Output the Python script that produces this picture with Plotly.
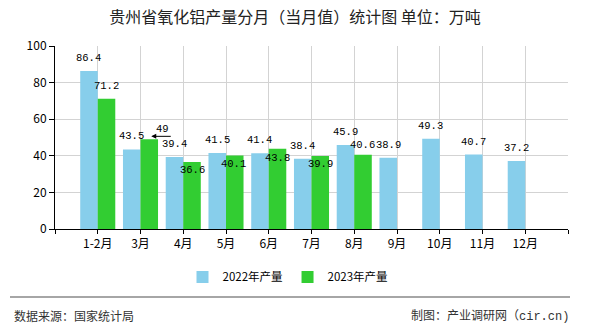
import plotly.graph_objects as go

categories = ["1-2月", "3月", "4月", "5月", "6月", "7月", "8月", "9月", "10月", "11月", "12月"]
values_2022 = [86.4, 43.5, 39.4, 41.5, 41.4, 38.4, 45.9, 38.9, 49.3, 40.7, 37.2]
values_2023 = [71.2, 49, 36.6, 40.1, 43.8, 39.9, 40.6]
series_names = ["2022年产量", "2023年产量"]
y_ticks = [0, 20, 40, 60, 80, 100]

title_text = "贵州省氧化铝产量分月（当月值）统计图 单位：万吨"
source_text = "数据来源：国家统计局"
maker_text = "制图：产业调研网（<span style='font-family:Liberation Mono'>cir.cn)</span>"

# label placement offsets (px) for the 2023 series labels: (dx, dy)
label_2023_shift = [(0, 13), (13, 10), (0, -8), (-1, -8), (0, -9), (0, -8), (-1, 10)]

BW = 0.41
C2022 = "#87CEEB"
C2023 = "#32CD32"
CJK = "Noto Sans CJK SC"
MONO = "Liberation Mono"
LABEL_SIZE = 10.5

x_idx = list(range(len(categories)))

fig = go.Figure()
fig.add_trace(go.Bar(
    x=x_idx, y=values_2022, name=series_names[0],
    width=BW, offset=-BW, marker=dict(color=C2022, line=dict(width=0)),
    hoverinfo="y",
))
fig.add_trace(go.Bar(
    x=x_idx[:len(values_2023)], y=values_2023, name=series_names[1],
    width=BW, offset=0, marker=dict(color=C2023, line=dict(width=0)),
    hoverinfo="y",
))

annotations = []
for i, v in enumerate(values_2022):
    annotations.append(dict(
        x=i - BW / 2, y=v, xref="x", yref="y", text=str(v), showarrow=False,
        yanchor="middle", xanchor="center", yshift=13,
        font=dict(family=MONO, size=LABEL_SIZE, color="#000"),
    ))
for i, v in enumerate(values_2023):
    dx, dy = label_2023_shift[i]
    annotations.append(dict(
        x=i + BW / 2, y=v, xref="x", yref="y", text=str(v), showarrow=False,
        yanchor="middle", xanchor="center", xshift=dx, yshift=dy,
        font=dict(family=MONO, size=LABEL_SIZE, color="#000"),
    ))
# small pointer arrow for the "49" label
annotations.append(dict(
    x=1 + BW / 2, y=values_2023[1], xref="x", yref="y", text="",
    showarrow=True, ax=21, ay=0, xshift=2, yshift=3,
    arrowhead=2, arrowsize=1, arrowwidth=1, arrowcolor="#000",
))

annotations.append(dict(
    x=-0.0838, y=-0.47, xref="paper", yref="paper", text=source_text,
    showarrow=False, xanchor="left", yanchor="middle",
    font=dict(family=CJK, size=12, color="#333"),
))
annotations.append(dict(
    x=1.0053, y=-0.47, xref="paper", yref="paper", text=maker_text,
    showarrow=False, xanchor="right", yanchor="middle",
    font=dict(family=CJK, size=12, color="#333"),
))

fig.update_layout(
    width=590, height=330,
    margin=dict(l=55, r=22, t=46, b=101, autoexpand=False),
    paper_bgcolor="white", plot_bgcolor="white",
    barmode="overlay",
    title=dict(text=title_text, x=295 / 590, xanchor="center", xref="container",
               y=1 - 17.5 / 330, yanchor="middle", yref="container",
               font=dict(family=CJK, size=16, color="#222")),
    xaxis=dict(
        range=[-1, len(categories)],
        tickmode="array",
        tickvals=[-1] + x_idx + [len(categories)],
        ticktext=[""] + categories + [""],
        tickangle=0, automargin=False,
        showline=True, linecolor="#000", linewidth=1,
        ticks="outside", ticklen=4, tickcolor="#000",
        showgrid=True, gridcolor="#d3d3d3", gridwidth=1,
        zeroline=False,
        tickfont=dict(family=CJK, size=12, color="#000"),
    ),
    yaxis=dict(
        range=[0, 100], tickmode="array", tickvals=y_ticks,
        automargin=False,
        showline=True, linecolor="#000", linewidth=1,
        ticks="outside", ticklen=5, tickcolor="#000",
        showgrid=True, gridcolor="#d3d3d3", gridwidth=1,
        zeroline=False,
        tickfont=dict(family=CJK, size=12, color="#000"),
    ),
    legend=dict(
        orientation="h", x=(288 - 55) / 513, xanchor="center", xref="paper",
        y=-0.262, yanchor="middle", yref="paper",
        font=dict(family=CJK, size=11.5, color="#000"),
        traceorder="normal",
    ),
    shapes=[dict(
        type="line", xref="paper", yref="paper",
        x0=-0.0877, x1=1.0039, y0=-0.3716, y1=-0.3716,
        line=dict(color="#888", width=1.5),
    )],
    annotations=annotations,
    showlegend=True,
)

fig.write_html("out.html")
